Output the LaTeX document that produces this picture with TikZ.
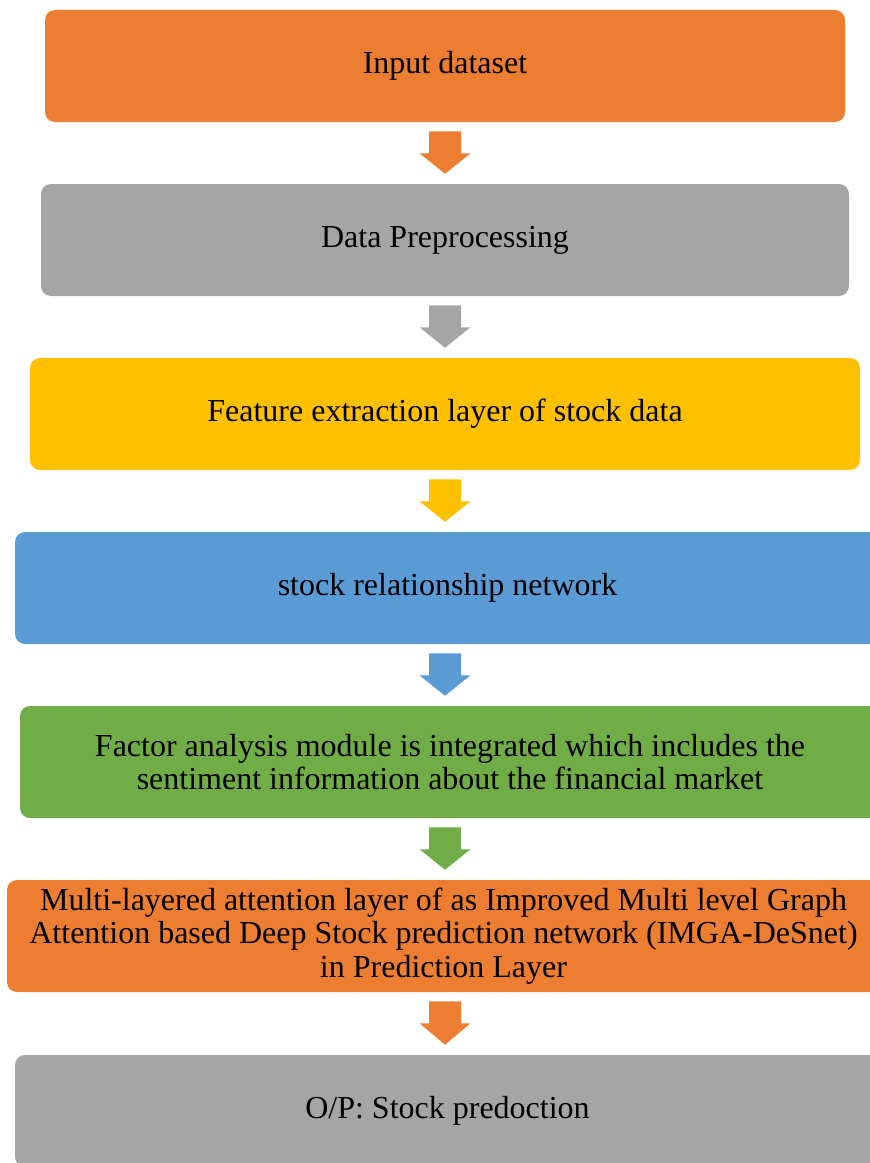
\documentclass[tikz,border=0pt]{standalone}
\usepackage{fontspec}
\setmainfont{Liberation Serif}
\usetikzlibrary{calc}

\definecolor{orangeA}{HTML}{ED7D31}
\definecolor{grayA}{HTML}{A5A5A5}
\definecolor{yellowA}{HTML}{FFC000}
\definecolor{blueA}{HTML}{5B9BD5}
\definecolor{greenA}{HTML}{70AD47}

\tikzset{
  stage/.style={rounded corners=7.5pt, minimum height=84pt, inner sep=0pt,
    align=center, text=black, font=\fontsize{24}{25.1}\selectfont},
}

\begin{document}
\begin{tikzpicture}[x=0.75pt,y=-0.75pt]
    \useasboundingbox (0,0) rectangle (870,1163);
    \coordinate (axis) at (445,0);
    \node[stage, fill=orangeA, minimum width=600pt] (inp) at (445,66) {Input dataset};
    \node[stage, fill=grayA, minimum width=606pt] (pre) at (445,240) {Data Preprocessing};
    \node[stage, fill=yellowA, minimum width=622.5pt] (fea) at (445,414) {Feature extraction layer of stock data};
    \node[stage, fill=blueA, minimum width=648.75pt] (rel) at (447.5,588) {stock relationship network};
    \node[stage, fill=greenA, minimum width=645pt] (fac) at (450,762)
      {Factor analysis module is integrated which includes the\\sentiment information about the financial market};
    \node[stage, fill=orangeA, minimum width=654.75pt] (att) at (443.5,936)
      {Multi-layered attention layer of as Improved Multi level Graph\\Attention based Deep Stock prediction network (IMGA-DeSnet)\\in Prediction Layer};
    \node[stage, fill=grayA, minimum width=648.75pt] (out) at (447.5,1111) {O/P: Stock predoction};
    % block arrows between the stages
    \foreach \a/\b/\c in {inp/pre/orangeA, pre/fea/grayA, fea/rel/yellowA,
                         rel/fac/blueA, fac/att/greenA, att/out/orangeA}
    \fill[\c] ($(axis |- \a.south)+(-16,9)$) -- ++(32,0) -- ++(0,22)
      -- ++(9.5,0) -- ($(axis |- \b.north)+(0,-10)$) -- ($(axis |- \a.south)+(-25.5,31)$)
      -- ++(9.5,0) -- cycle;
\end{tikzpicture}
\end{document}
